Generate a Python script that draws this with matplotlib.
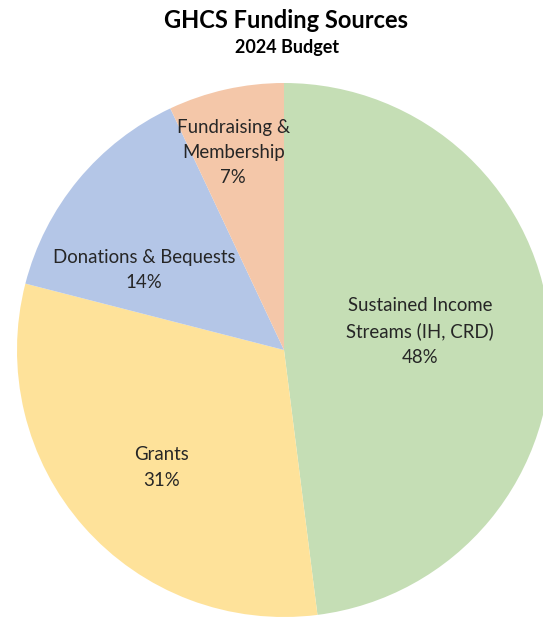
import matplotlib.pyplot as plt

# funding share, clockwise from 12 o'clock
labels = ["Sustained Income\nStreams (IH, CRD)", "Grants", "Donations & Bequests", "Fundraising &\nMembership"]
shares = [48, 31, 14, 7]
colors = ["#C5DEB5", "#FEE29A", "#B4C6E7", "#F4C7A9"]
# label centres in pie-radius units
label_pos = [(0.51, 0.07), (-0.46, -0.44), (-0.524, 0.30), (-0.19, 0.74)]

plt.rcParams['font.family'] = ['Lato', 'DejaVu Sans']

W, H = 543, 617
fig = plt.figure(figsize=(W / 100, H / 100), dpi=100)
R = 267
cx, cy = 284, H - 350
ax = fig.add_axes([(cx - R) / W, (cy - R) / H, 2 * R / W, 2 * R / H])

wedges, _ = ax.pie(shares, colors=colors, startangle=90, counterclock=False,
                   radius=1, wedgeprops=dict(linewidth=0))
ax.set_xlim(-1, 1)
ax.set_ylim(-1, 1)
ax.axis('off')

for lab, s, (x, y) in zip(labels, shares, label_pos):
    ax.text(x, y, f"{lab}\n{s}%", ha='center', va='center',
            fontsize=13.4, color='#262626', linespacing=1.6)

fig.text(286 / W, 1 - 20 / H, "GHCS Funding Sources", ha='center', va='center',
         fontsize=17, fontweight='bold')
fig.text(287 / W, 1 - 47 / H, "2024 Budget", ha='center', va='center',
         fontsize=13, fontweight='bold')

fig.savefig("out.png", dpi=100)
